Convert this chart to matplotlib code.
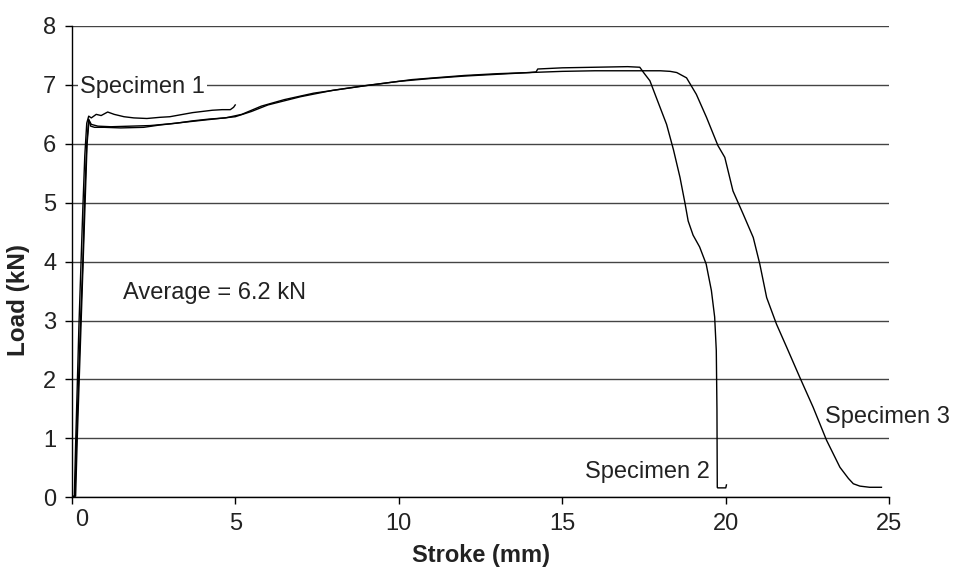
import matplotlib
matplotlib.use("Agg")
import matplotlib.pyplot as plt

plt.rcParams['font.family'] = ['Liberation Sans', 'DejaVu Sans']

# ---- data ----
s1_x = [0, 0.08, 0.12, 0.17, 0.22, 0.28, 0.34, 0.40, 0.46, 0.52, 0.6, 0.75, 0.9, 1.1, 1.3,
        1.6, 1.9, 2.3, 2.7, 3.0, 3.4, 3.7, 4.0, 4.3, 4.6, 4.85, 4.95, 5.0]
s1_y = [0, 0.02, 0.9, 1.9, 2.9, 3.9, 4.9, 5.8, 6.35, 6.47, 6.44, 6.50, 6.48, 6.54, 6.50,
        6.46, 6.44, 6.43, 6.45, 6.46, 6.50, 6.53, 6.55, 6.57, 6.58, 6.58, 6.62, 6.66]

s2_x = [0, 0.1, 0.15, 0.21, 0.27, 0.34, 0.39, 0.46, 0.52, 0.58, 0.7, 1.0, 1.5, 2.2, 2.7,
        3.2, 3.7, 4.2, 4.7, 5.2, 5.8, 6.5, 7.4, 8.9, 10.4, 12.0, 13.0, 14.0, 14.2, 14.25,
        15.0, 16.0, 17.0, 17.37, 17.5, 17.68, 17.9, 18.19, 18.4, 18.6, 18.75, 18.85, 19.0,
        19.2, 19.4, 19.56, 19.66, 19.71, 19.73, 19.74, 19.75, 20.0, 20.02]
s2_y = [0, 0.03, 1, 2, 3, 4, 5, 6, 6.42, 6.3, 6.28, 6.28, 6.27, 6.28, 6.32,
        6.35, 6.39, 6.42, 6.44, 6.50, 6.64, 6.75, 6.86, 6.98, 7.09, 7.16, 7.19, 7.21, 7.22, 7.27,
        7.29, 7.30, 7.31, 7.30, 7.2, 7.07, 6.75, 6.33, 5.9, 5.43, 5.0, 4.69, 4.45,
        4.25, 3.96, 3.51, 3.06, 2.49, 1.5, 0.17, 0.16, 0.16, 0.21]

s3_x = [0, 0.12, 0.17, 0.23, 0.29, 0.35, 0.41, 0.47, 0.53, 0.6, 0.8, 1.2, 1.8, 2.4, 3.0,
        3.5, 4.0, 4.5, 5.0, 5.5, 6.0, 7.0, 8.0, 9.0, 10.0, 11.0, 12.0, 13.0, 14.0, 15.0,
        16.0, 17.0, 18.0, 18.3, 18.5, 18.8, 19.1, 19.41, 19.76, 19.97, 20.22, 20.53, 20.84,
        21.04, 21.25, 21.55, 21.86, 22.26, 22.67, 23.08, 23.49, 23.75, 23.9, 24.1, 24.4, 24.76]
s3_y = [0, 0.02, 1, 2, 3, 4, 5, 6, 6.4, 6.33, 6.3, 6.29, 6.30, 6.31, 6.34,
        6.37, 6.40, 6.43, 6.46, 6.55, 6.66, 6.80, 6.91, 6.99, 7.06, 7.11, 7.15, 7.18, 7.21, 7.23,
        7.24, 7.24, 7.24, 7.23, 7.21, 7.12, 6.84, 6.45, 5.97, 5.77, 5.2, 4.81, 4.41,
        3.96, 3.39, 2.94, 2.55, 2.04, 1.53, 0.97, 0.51, 0.32, 0.23, 0.19, 0.17, 0.17]

x_ticks = [0, 5, 10, 15, 20, 25]
x_ticklabels = ['', '5', '10', '15', '20', '25']
y_ticks = [0, 1, 2, 3, 4, 5, 6, 7, 8]
y_ticklabels = ['0', '1', '2', '3', '4', '5', '6', '7', '8']

W, H = 955, 574
fig = plt.figure(figsize=(W / 100, H / 100), dpi=100)
L, R, T, B = 71.7, 889.3, 26.0, 497.3
ax = fig.add_axes([L / W, 1 - B / H, (R - L) / W, (B - T) / H])

for xs, ys in [(s1_x, s1_y), (s2_x, s2_y), (s3_x, s3_y)]:
    ax.plot(xs, ys, color='black', lw=1.0, zorder=3)

ax.set_xlim(0, 25)
ax.set_ylim(0, 8)
ax.set_xticks(x_ticks)
ax.set_xticklabels(x_ticklabels)
ax.set_yticks(y_ticks)
ax.set_yticklabels(y_ticklabels)
ax.tick_params(axis='both', direction='out', length=5, width=1, color='black',
               labelsize=17, labelcolor='#222222')
ax.tick_params(axis='x', pad=6)
ax.tick_params(axis='y', pad=6)
ax.yaxis.grid(True, color='#444444', lw=1)
ax.set_axisbelow(True)
for s in ['top', 'right']:
    ax.spines[s].set_visible(False)
for s in ['left', 'bottom']:
    ax.spines[s].set_color('black')
    ax.spines[s].set_linewidth(1)

# first x label "0" shifted right as in reference
ax.text(0.31, -0.2, '0', transform=ax.transData, ha='center', va='top',
        fontsize=17, color='#222222', clip_on=False)

ax.set_xlabel('Stroke (mm)', fontsize=17, fontweight='bold', color='#222222', labelpad=7)
fig.text(18 / W, 1 - 300 / H, 'Load (kN)', rotation=90, ha='center', va='center',
         fontsize=17.5, fontweight='bold', color='#222222')

txt_kw = dict(fontsize=17, color='#222222', va='baseline', ha='left', zorder=4)
ax.text(0.25, 6.86, 'Specimen 1',
        bbox=dict(facecolor='white', edgecolor='none', pad=1.5), **txt_kw)
ax.text(1.58, 3.36, 'Average = 6.2 kN', **txt_kw)
ax.text(15.7, 0.32, 'Specimen 2', **txt_kw)
ax.text(23.04, 1.26, 'Specimen 3', clip_on=False, **txt_kw)

fig.savefig('out.png', dpi=100)
